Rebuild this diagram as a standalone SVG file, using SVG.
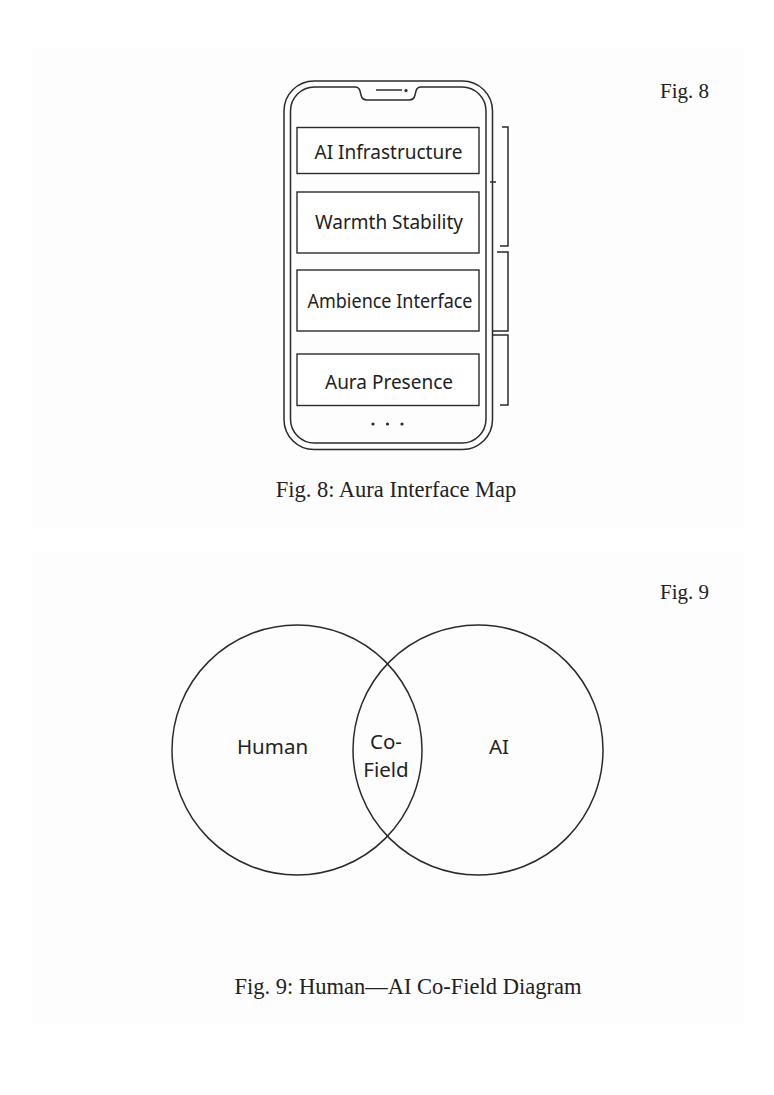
<svg xmlns="http://www.w3.org/2000/svg" width="774" height="1095" viewBox="0 0 774 1095">
<style>
.ln{fill:none;stroke:#2b2b2b;stroke-width:1.5}
.box{fill:#ffffff;stroke:#2b2b2b;stroke-width:1.4}
.lbl{font-family:"Noto Sans","Open Sans","DejaVu Sans",sans-serif;font-size:19px;fill:#222;text-anchor:middle}
.vlbl{font-family:"Noto Sans","Open Sans","DejaVu Sans",sans-serif;font-size:20.5px;fill:#222;text-anchor:middle}
.cap{font-family:"Liberation Serif","Times New Roman",serif;font-size:22.5px;fill:#222;text-anchor:middle}
.fig{font-family:"Liberation Serif","Times New Roman",serif;font-size:21px;fill:#222}
</style>
<rect x="0" y="0" width="774" height="1095" fill="#ffffff"/>
<rect id="panel8" x="32" y="48" width="712" height="479" fill="#fdfdfd"/>
<rect id="panel9" x="32" y="553" width="712" height="472" fill="#fdfdfd"/>

<g id="fig8">
  <text class="fig" x="660" y="98">Fig. 8</text>
  <g id="phone">
    <rect class="ln" x="284" y="81" width="208.5" height="368.5" rx="30" ry="30" fill="#ffffff"/>
    <path class="ln" d="M314.5,87 H355 Q359,87 360,91 L361,95 Q362,100 367,100 H409 Q414,100 415,95 L416,91 Q417,87 421,87 H462 A24,24 0 0 1 486,111 V419 A24,24 0 0 1 462,443 H314.5 A24,24 0 0 1 290.5,419 V111 A24,24 0 0 1 314.5,87 Z"/>
    <line class="ln" x1="376" y1="90" x2="402" y2="90"/>
    <circle cx="406" cy="90.5" r="1.6" fill="#2b2b2b"/>
    <circle cx="373" cy="424" r="1.6" fill="#2b2b2b"/>
    <circle cx="387.5" cy="424" r="1.6" fill="#2b2b2b"/>
    <circle cx="402" cy="424" r="1.6" fill="#2b2b2b"/>
  </g>
  <g id="ai-infrastructure">
    <rect class="box" x="297" y="127.5" width="182" height="46"/>
    <text class="lbl" x="388.5" y="158.5">AI Infrastructure</text>
  </g>
  <g id="warmth-stability">
    <rect class="box" x="297" y="192" width="182" height="61"/>
    <text class="lbl" x="389" y="228.5">Warmth Stability</text>
  </g>
  <g id="ambience-interface">
    <rect class="box" x="297" y="270" width="182" height="61"/>
    <text class="lbl" x="390" y="308" textLength="165" lengthAdjust="spacingAndGlyphs">Ambience Interface</text>
  </g>
  <g id="aura-presence">
    <rect class="box" x="297" y="354" width="182" height="51.5"/>
    <text class="lbl" x="389" y="388.5">Aura Presence</text>
  </g>
  <g id="brackets">
    <path class="ln" d="M502,127 H508 V246 H500"/>
    <line class="ln" x1="490" y1="182" x2="496" y2="182"/>
    <path class="ln" d="M497,252 H508 V331 H492"/>
    <path class="ln" d="M492,335 H508 V405 H500"/>
  </g>
  <text class="cap" x="396" y="497">Fig. 8: Aura Interface Map</text>
</g>

<g id="fig9">
  <text class="fig" x="660" y="599">Fig. 9</text>
  <g id="human">
    <circle class="ln" cx="297" cy="750" r="125"/>
    <text class="vlbl" x="272.5" y="754">Human</text>
  </g>
  <g id="ai">
    <circle class="ln" cx="478" cy="750" r="125"/>
    <text class="vlbl" x="499" y="754">AI</text>
  </g>
  <g id="co-field">
    <text class="vlbl" x="386" y="749">Co-</text>
    <text class="vlbl" x="386" y="777">Field</text>
  </g>
  <text class="cap" x="408" y="994">Fig. 9: Human—AI Co-Field Diagram</text>
</g>
</svg>
